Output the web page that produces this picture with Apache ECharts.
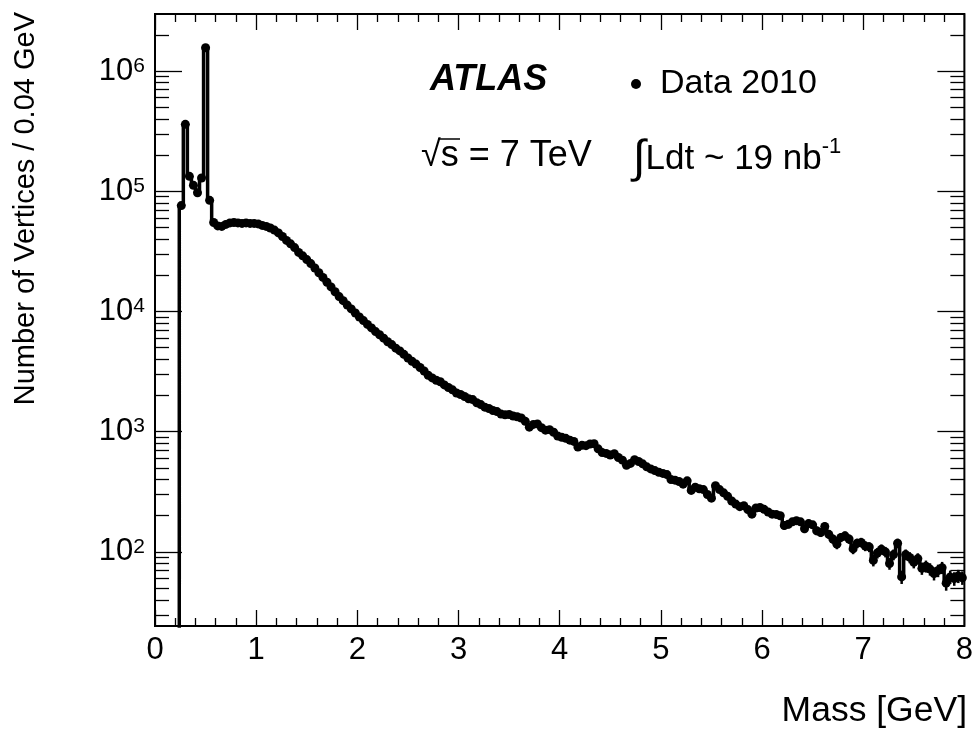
<!DOCTYPE html>
<html>
<head>
<meta charset="utf-8">
<script src="https://cdn.jsdelivr.net/npm/echarts@6/dist/echarts.min.js"></script>
<style>
html, body { margin: 0; padding: 0; background: #fff; }
#chart { width: 976px; height: 731px; }
</style>
</head>
<body>
<div id="chart"></div>
<script>
// histogram: 0.04 GeV bins, first filled bin centred at 0.26 GeV
const binWidth = 0.04
const firstBinCenter = 0.26
const emptyBinCenter = 0.22   // last empty bin before the spectrum starts
const emptyBinStandIn = 1     // zero count, drawn below the frame on the log axis

const counts = [
  76000, 360000, 133000, 112000, 97000, 129000, 1560000, 84000, 55000, 51500,
  51000, 53000, 54500, 55000, 54500, 54000, 54500, 54000, 54000, 53500,
  52000, 51000, 49500, 47500, 45000, 42000, 39000, 36500, 34000, 31000,
  29000, 27000, 25000, 23000, 21000, 19200, 17500, 16000, 14600, 13300,
  12300, 11300, 10500, 9700, 9000, 8400, 7800, 7300, 6800, 6400,
  6000, 5600, 5300, 4950, 4700, 4400, 4100, 3850, 3650, 3420,
  3200, 2950, 2800, 2680, 2600, 2450, 2330, 2230, 2100, 2040,
  1960, 1880, 1850, 1740, 1680, 1600, 1560, 1500, 1470, 1400,
  1380, 1390, 1350, 1330, 1300, 1220, 1090, 1150, 1160, 1080,
  1030, 1040, 990, 920, 900, 880, 850, 830, 745, 770,
  765, 790, 795, 720, 670, 660, 640, 655, 610, 580,
  525, 545, 585, 565, 540, 510, 490, 475, 460, 450,
  440, 400, 395, 385, 366, 390, 325, 345, 335, 330,
  300, 280, 355, 330, 310, 290, 265, 250, 238, 242,
  225, 206, 232, 234, 226, 215, 206, 205, 200, 166,
  170, 178, 182, 178, 156, 172, 168, 150, 145, 163,
  140, 128, 116, 132, 136, 128, 106, 118, 120, 112,
  110, 85, 98, 105, 100, 80, 95, 118, 62, 95,
  90, 82, 88, 73, 76, 72, 66, 70, 74, 55,
  62, 60, 63, 61
]

const xTicks = [0, 1, 2, 3, 4, 5, 6, 7, 8]
const yMin = 24.2
const yMax = 2.98e6
const yMajorTicks = [1e2, 1e3, 1e4, 1e5, 1e6]
const yMinorTicks = []
for (const d of [1e1, 1e2, 1e3, 1e4, 1e5, 1e6]) {
  for (let k = 2; k <= 9; k++) yMinorTicks.push(k * d)
}

const FONT = '"Liberation Sans", Arial, Helvetica, sans-serif'

const points = counts.map((n, i) => [+(firstBinCenter + i * binWidth).toFixed(2), n])
const lineData = [{ value: [emptyBinCenter, emptyBinStandIn], symbol: 'none' }].concat(points)

function xAxisCfg(position, showLabel) {
  return {
    type: 'value', position, min: xTicks[0], max: xTicks[xTicks.length - 1], interval: 1,
    axisLine: { show: false },
    splitLine: { show: false },
    axisTick: { show: true, inside: true, length: 16, lineStyle: { color: '#000', width: 1.3 } },
    minorTick: { show: true, splitNumber: 5, length: 8, lineStyle: { color: '#000', width: 1.3 } },
    axisLabel: {
      show: showLabel, color: '#000', fontSize: 31, fontFamily: FONT, margin: 9,
      showMinLabel: true, showMaxLabel: true
    }
  }
}

function yAxisCfg(position, ticks, len, showLabel) {
  return {
    type: 'log', logBase: 10, position, min: yMin, max: yMax,
    axisLine: { show: false },
    splitLine: { show: false },
    axisTick: { show: true, inside: true, length: len, customValues: ticks, lineStyle: { color: '#000', width: 1.3 } },
    axisLabel: showLabel ? {
      show: true, customValues: yMajorTicks, margin: 10,
      formatter: v => '{b|10}{e|' + Math.round(Math.log10(v)) + '}',
      rich: {
        b: { fontSize: 31, fontFamily: FONT, color: '#000', lineHeight: 31 },
        e: { fontSize: 21, fontFamily: FONT, color: '#000', verticalAlign: 'top', lineHeight: 21 }
      }
    } : { show: false }
  }
}

const chart = echarts.init(document.getElementById('chart'), null, { renderer: 'canvas' })

chart.setOption({
  animation: false,
  backgroundColor: '#fff',
  grid: { left: 155, right: 10, top: 14, bottom: 105, show: true, borderColor: '#000', borderWidth: 2, backgroundColor: 'transparent' },
  legend: {
    left: 626, top: 62, selectedMode: false,
    itemWidth: 10, itemHeight: 10,
    data: [{ name: 'Data 2010', icon: 'circle' }],
    textStyle: { color: '#000', fontSize: 34, fontFamily: FONT, padding: [0, 0, 0, 14] }
  },
  xAxis: [xAxisCfg('bottom', true), xAxisCfg('top', false)],
  yAxis: [
    yAxisCfg('left', yMajorTicks, 27, true),
    yAxisCfg('left', yMinorTicks, 14, false),
    yAxisCfg('right', yMajorTicks, 27, false),
    yAxisCfg('right', yMinorTicks, 14, false)
  ],
  series: [
    {
      name: 'Data 2010',
      type: 'line',
      step: 'middle',
      data: lineData,
      clip: true,
      symbol: 'circle',
      symbolSize: 9,
      showAllSymbol: true,
      itemStyle: { color: '#000' },
      lineStyle: { color: '#000', width: 3.5 },
      z: 4
    },
    {
      name: 'errors',
      type: 'custom',
      data: points,
      clip: true,
      z: 3,
      renderItem: (params, api) => {
        const m = api.value(0)
        const n = api.value(1)
        const err = Math.sqrt(n)
        const p1 = api.coord([m, n - err])
        const p2 = api.coord([m, n + err])
        return { type: 'line', shape: { x1: p1[0], y1: p1[1], x2: p2[0], y2: p2[1] }, style: { stroke: '#000', lineWidth: 2.5 } }
      }
    }
  ],
  graphic: [
    {
      type: 'text', x: 26, y: 12, rotation: Math.PI / 2,
      style: { text: 'Number of Vertices / 0.04 GeV', font: '29px ' + FONT, fill: '#000', align: 'right', verticalAlign: 'middle' }
    },
    {
      type: 'text', x: 967, y: 711,
      style: { text: 'Mass [GeV]', font: '35.5px ' + FONT, fill: '#000', align: 'right', verticalAlign: 'middle' }
    },
    {
      type: 'text', x: 430, y: 80,
      style: { text: 'ATLAS', font: 'italic bold 36px ' + FONT, fill: '#000', align: 'left', verticalAlign: 'middle' }
    },
    {
      type: 'text', x: 421, y: 156,
      style: { text: '√s = 7 TeV', font: '36px ' + FONT, fill: '#000', align: 'left', verticalAlign: 'middle' }
    },
    {
      type: 'line', shape: { x1: 438, y1: 139, x2: 460, y2: 139 }, style: { stroke: '#000', lineWidth: 1.5 }
    },
    {
      type: 'text', x: 633, y: 159,
      style: {
        text: '{i|∫}{t|Ldt ~ 19 nb}{s|-1}', align: 'left', verticalAlign: 'middle',
        rich: {
          i: { font: '46px ' + FONT, fill: '#000' },
          t: { font: '35px ' + FONT, fill: '#000' },
          s: { font: '22px ' + FONT, fill: '#000', verticalAlign: 'top' }
        }
      }
    }
  ]
})
</script>
</body>
</html>
